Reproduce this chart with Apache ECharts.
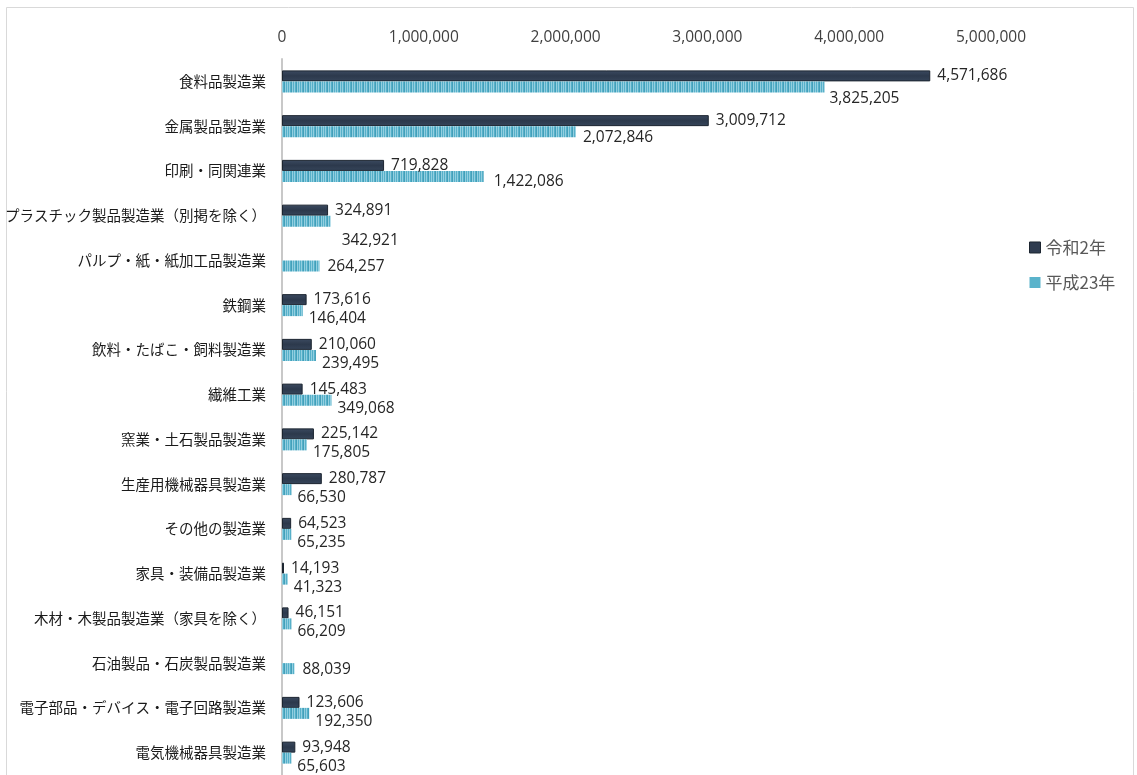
<!DOCTYPE html>
<html>
<head>
<meta charset="utf-8">
<script src="https://cdn.jsdelivr.net/npm/echarts@6/dist/echarts.min.js"></script>
<style>
  html, body { margin: 0; padding: 0; background: #fff; }
  #chart { width: 1137px; height: 775px; }
</style>
</head>
<body>
<div id="chart"></div>
<script>
// Industries, listed top to bottom
const categories = [
  '食料品製造業',
  '金属製品製造業',
  '印刷・同関連業',
  'プラスチック製品製造業（別掲を除く）',
  'パルプ・紙・紙加工品製造業',
  '鉄鋼業',
  '飲料・たばこ・飼料製造業',
  '繊維工業',
  '窯業・土石製品製造業',
  '生産用機械器具製造業',
  'その他の製造業',
  '家具・装備品製造業',
  '木材・木製品製造業（家具を除く）',
  '石油製品・石炭製品製造業',
  '電子部品・デバイス・電子回路製造業',
  '電気機械器具製造業'
];

// 令和2年 (null = no figure)
const valuesR2 = [
  4571686, 3009712, 719828, 324891, null, 173616, 210060, 145483,
  225142, 280787, 64523, 14193, 46151, null, 123606, 93948
];

// 平成23年
const valuesH23 = [
  3825205, 2072846, 1422086, 342921, 264257, 146404, 239495, 349068,
  175805, 66530, 65235, 41323, 66209, 88039, 192350, 65603
];

const seriesNames = ['令和2年', '平成23年'];
const xTicks = [0, 1000000, 2000000, 3000000, 4000000, 5000000];

// Label nudges for the 平成23年 labels, keyed by industry
const h23LabelOffset = {
  '食料品製造業': [0, 12],
  'プラスチック製品製造業（別掲を除く）': [6, 19],
  'パルプ・紙・紙加工品製造業': [3, 1],
  '石油製品・石炭製品製造業': [3, 1],
  '印刷・同関連業': [5, 5],
  '金属製品製造業': [2, 6]
};

// Striped fill for the light series
function stripePattern() {
  const c = document.createElement('canvas');
  c.width = 12; c.height = 4;
  const g = c.getContext('2d');
  g.fillStyle = '#56b0c9';
  g.fillRect(0, 0, 12, 4);
  g.fillStyle = '#93cfe0';
  [1, 4, 6, 9, 11].forEach(x => g.fillRect(x, 0, 1, 4));
  g.fillStyle = '#439fb9';
  [3, 8].forEach(x => g.fillRect(x, 0, 1, 4));
  return c;
}

const fmt = v => (v == null ? '' : v.toLocaleString('en-US'));
const numFont = '"Open Sans", "Noto Sans", sans-serif';
const jpFont = '"Noto Sans CJK JP", sans-serif';

const chart = echarts.init(document.getElementById('chart'), null, { renderer: 'canvas' });

chart.setOption({
  animation: false,
  backgroundColor: '#ffffff',
  graphic: [{
    type: 'rect',
    shape: { x: 6.5, y: 7.5, width: 1127, height: 800 },
    style: { fill: 'none', stroke: '#d9d9d9', lineWidth: 1 },
    silent: true
  }],
  legend: {
    orient: 'vertical',
    left: 1024,
    top: 234,
    itemWidth: 11,
    itemHeight: 11,
    itemGap: 18,
    icon: 'rect',
    textStyle: { fontFamily: jpFont, fontSize: 17, color: '#595959' },
    data: [
      { name: seriesNames[0], itemStyle: { color: '#2f3c50', borderColor: '#1c2530', borderWidth: 1 } },
      { name: seriesNames[1], itemStyle: { color: '#5ab3cb' } }
    ]
  },
  grid: { left: 282, right: 146, top: 59, height: 716 },
  xAxis: {
    type: 'value',
    position: 'top',
    min: 0,
    max: 5000000,
    interval: 1000000,
    axisLine: { show: false },
    axisTick: { show: false },
    splitLine: { show: false },
    axisLabel: {
      margin: 13,
      fontFamily: numFont,
      fontSize: 15.5,
      color: '#404040',
      formatter: v => (xTicks.indexOf(v) >= 0 ? fmt(v) : '')
    }
  },
  yAxis: {
    type: 'category',
    inverse: true,
    data: categories,
    axisLine: { show: true, lineStyle: { color: '#c8c8c8', width: 2 } },
    axisTick: { show: false },
    axisLabel: {
      margin: 16,
      fontFamily: jpFont,
      fontSize: 14.5,
      color: '#1a1a1a'
    }
  },
  series: [
    {
      name: seriesNames[0],
      type: 'bar',
      barWidth: 11,
      barGap: '0%',
      data: valuesR2,
      itemStyle: {
        color: new echarts.graphic.LinearGradient(0, 0, 0, 1, [
          { offset: 0, color: '#3b4a60' },
          { offset: 0.5, color: '#2c394c' },
          { offset: 1, color: '#36455a' }
        ]),
        borderColor: '#1c2530',
        borderWidth: 1
      },
      label: {
        show: true,
        position: 'right',
        distance: 7,
        fontFamily: numFont,
        fontSize: 15.5,
        color: '#262626',
        formatter: p => fmt(p.value)
      }
    },
    {
      name: seriesNames[1],
      type: 'bar',
      barWidth: 11,
      barGap: '0%',
      data: valuesH23.map((v, i) => ({
        value: v,
        label: { offset: h23LabelOffset[categories[i]] || [1, 8] }
      })),
      itemStyle: {
        color: { image: stripePattern(), repeat: 'repeat' }
      },
      label: {
        show: true,
        position: 'right',
        distance: 5,
        fontFamily: numFont,
        fontSize: 15.5,
        color: '#262626',
        formatter: p => fmt(p.value)
      }
    }
  ]
});
</script>
</body>
</html>
